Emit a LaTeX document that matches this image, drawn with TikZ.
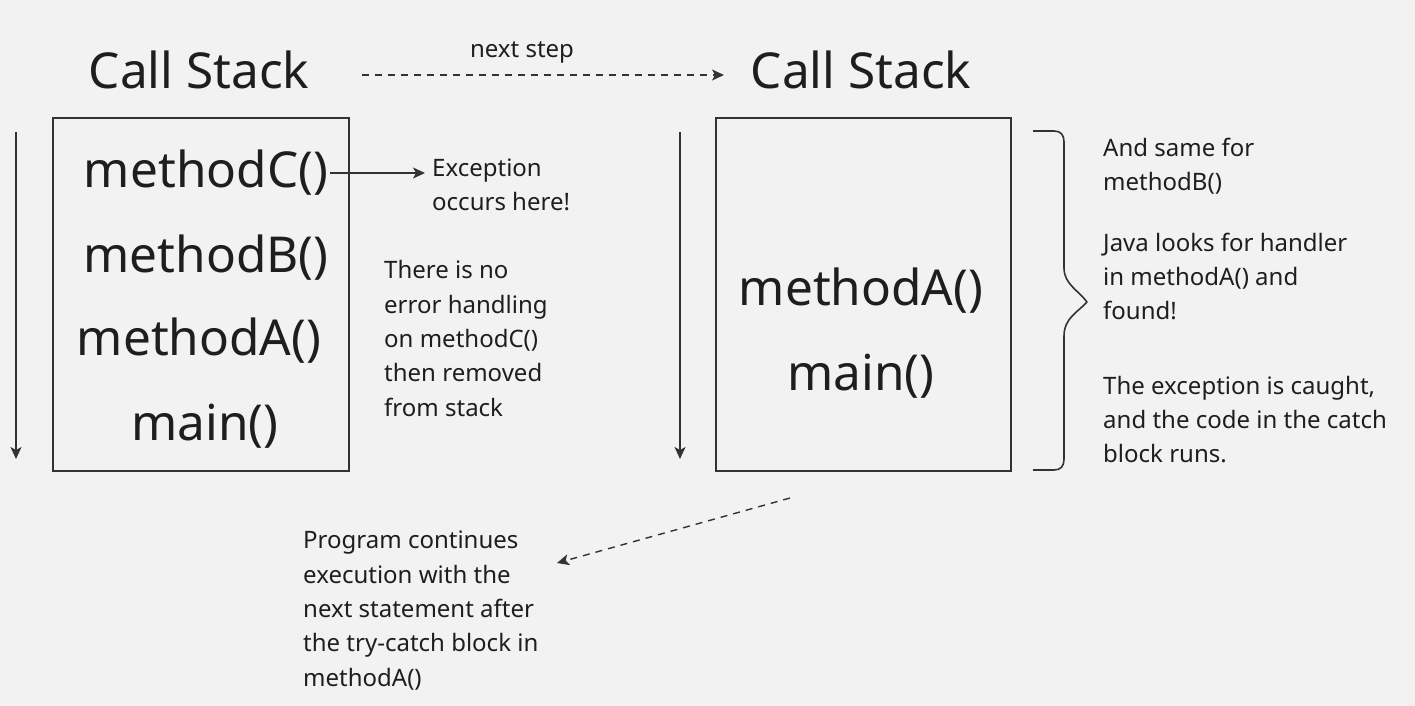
\documentclass[tikz,border=0pt]{standalone}
\usepackage{fontspec}
\setmainfont{Noto Sans}
\usetikzlibrary{arrows.meta}
\definecolor{bg}{HTML}{F2F2F2}
\definecolor{ink}{HTML}{1E1E1E}
\definecolor{linec}{HTML}{333333}
\tikzset{
  big/.style={font=\fontsize{49.5}{56}\selectfont, text=ink, inner sep=0pt},
  small/.style={font=\fontsize{24}{34.3}\selectfont, text=ink, inner sep=0pt, align=left},
  stackbox/.style={draw=linec, line width=1.6pt},
  conn/.style={draw=linec, line width=1.4pt, -{Stealth[length=12pt,width=11pt,inset=3pt]}},
  dconn/.style={conn, dash pattern=on 7pt off 6pt},
  brace/.style={draw=linec, line width=1.6pt, line join=round},
}
\begin{document}
\begin{tikzpicture}[x=1pt,y=-1pt]
\useasboundingbox[fill=bg] (0,0) rectangle (1415,706);

% titles
\node[big] (t1) at (199,70) {Call Stack};
\node[big] (t2) at (861,70) {Call Stack};
\coordinate (ns1) at (362,75);
\coordinate (ns2) at (724,75);
\draw[dconn] (ns1) -- (ns2);
\node[small] (ns) at (522,52) {next step};

% left stack
\node[stackbox, minimum width=296pt, minimum height=353pt, anchor=north west] (box1) at (52,117) {};
\node[big] (c) at (206,173) {methodC()};
\node[big] (b) at (206,258) {methodB()};
\node[big] (a) at (199,341) {methodA()};
\node[big] (m) at (205,426) {main()};
\coordinate (l1top) at (16,132);
\coordinate (l1bot) at (16,459);
\draw[conn] (l1top) -- (l1bot);

\node[small, anchor=west] (exc) at (432,184.5) {Exception\\occurs here!};
\coordinate (cst) at ([xshift=2pt]c.east);
\coordinate (cen) at ([xshift=-7pt]exc.west |- cst);
\draw[conn] (cst) -- (cen);
\node[small, anchor=west] (noerr) at (384,338.5) {There is no\\error handling\\on methodC()\\then removed\\from stack};

% right stack
\node[stackbox, minimum width=295pt, minimum height=353pt, anchor=north west] (box2) at (715,117) {};
\node[big] (a2) at (861,291) {methodA()};
\node[big] (m2) at (861,376) {main()};
\coordinate (l2top) at (680,132);
\coordinate (l2bot) at (680,459);
\draw[conn] (l2top) -- (l2bot);

% brace
\draw[brace] (1033,131) -- (1054,131) .. controls (1061,131) and (1064,135) .. (1064,142)
  -- (1064,268) .. controls (1064,284) and (1078,290) .. (1087,302)
  .. controls (1078,312) and (1064,318) .. (1064,336)
  -- (1064,459) .. controls (1064,466) and (1061,470) .. (1054,470) -- (1033,470);

\node[small, anchor=west] (same) at (1103,166) {And same for\\methodB()};
\node[small, anchor=west] (java) at (1103,276.5) {Java looks for handler\\in methodA() and\\found!};
\node[small, anchor=west] (caught) at (1103,419.5) {The exception is caught,\\and the code in the catch\\block runs.};

% bottom
\node[small, anchor=west] (prog) at (303,610.5) {Program continues\\execution with the\\next statement after\\the try-catch block in\\methodA()};
\coordinate (d1) at (790,498);
\coordinate (d2) at (557,563);
\draw[dconn] (d1) -- (d2);
\end{tikzpicture}
\end{document}
